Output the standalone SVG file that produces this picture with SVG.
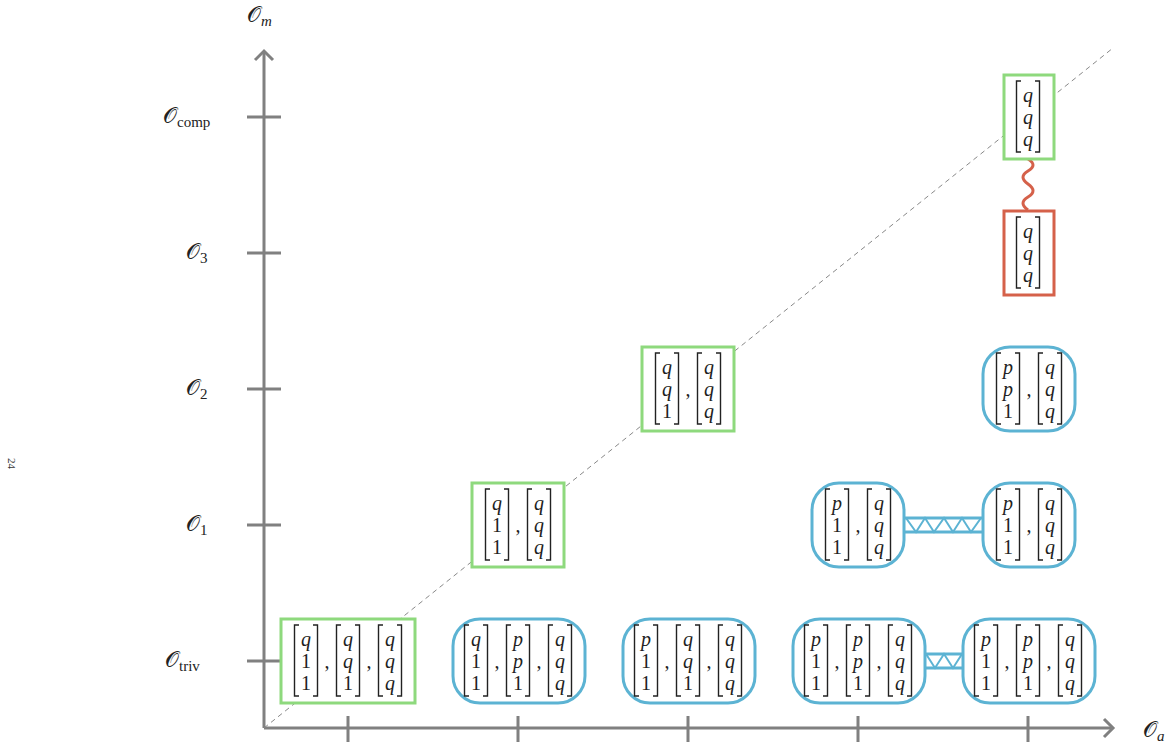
<svg xmlns="http://www.w3.org/2000/svg" width="1174" height="747" viewBox="0 0 1174 747">
<style>
.ax{stroke:#808080;stroke-width:3;fill:none;stroke-linecap:butt}
.lbl{font-family:"Liberation Serif","DejaVu Serif","DejaVu Sans",serif;font-size:22px;fill:#222}
.sub{font-size:15px}
.e{font-family:"Liberation Serif","DejaVu Serif",serif;font-size:20px;fill:#222;text-anchor:middle}
.v{font-style:italic}
.br{stroke:#222;stroke-width:1.4;fill:none}
.g{fill:#fff;stroke:#8ed97d;stroke-width:3}
.b{fill:#fff;stroke:#5cb3d3;stroke-width:3}
.r{fill:#fff;stroke:#d5614a;stroke-width:3}
.bc{stroke:#5cb3d3;stroke-width:3;fill:none}
.bz{stroke:#5cb3d3;stroke-width:2;fill:none}
</style>
<defs>
<g id="brk">
<path class="br" d="M-7,-36 h-4.5 v71 h4.5 M7,-36 h4.5 v71 h-4.5"/>
</g>
</defs>
<rect width="1174" height="747" fill="#fff"/>
<text x="8" y="458" transform="rotate(90 8 458)" font-family="Liberation Serif,serif" font-size="11" fill="#333">24</text>

<g id="axes">
<line x1="264" y1="52" x2="264" y2="728" class="ax"/>
<line x1="264" y1="728" x2="1111" y2="728" class="ax"/>
<path class="ax" d="M255,60 L264,51 L273,60"/>
<path class="ax" d="M1104,719 L1113,728 L1104,737"/>
<path class="ax" d="M247,661 h34 M247,525 h34 M247,389 h34 M247,253 h34 M247,117 h34"/>
<path class="ax" d="M348,716 v26 M518,716 v26 M688,716 v26 M858,716 v26 M1028,716 v26"/>
<line x1="264" y1="728" x2="1113" y2="48" stroke="#888" stroke-width="1" stroke-dasharray="5,4"/>
<text class="lbl" x="247" y="22">𝒪<tspan class="sub v" dy="4">m</tspan></text>
<text class="lbl" x="1143" y="737">𝒪<tspan class="sub v" dy="4">a</tspan></text>
<text class="lbl" x="163" y="123">𝒪<tspan class="sub" dy="4">comp</tspan></text>
<text class="lbl" x="186" y="259">𝒪<tspan class="sub" dy="4">3</tspan></text>
<text class="lbl" x="186" y="395">𝒪<tspan class="sub" dy="4">2</tspan></text>
<text class="lbl" x="186" y="531">𝒪<tspan class="sub" dy="4">1</tspan></text>
<text class="lbl" x="165" y="667">𝒪<tspan class="sub" dy="4">triv</tspan></text>
</g>

<g id="connectors">
<path class="bc" d="M904,518 H983 M904,532 H983"/>
<path class="bz" d="M906,518 L916,532 L925,518 L934,532 L944,518 L953,532 L962,518 L971,532 L981,518"/>
<path class="bc" d="M925,654 H963 M925,668 H963"/>
<path class="bz" d="M926,654 L935,668 L944,654 L953,668 L962,654"/>
<path d="M1028,159 Q1038,165 1028,171 T1028,184 T1028,197 T1028,210" stroke="#d5614a" stroke-width="3" fill="none"/>
</g>

<!-- triv row -->
<g id="n_triv_1">
<rect class="g" x="281" y="619" width="134" height="84"/>
<use href="#brk" x="306" y="661"/><text class="e v" x="306" y="646">q</text><text class="e" x="306" y="668">1</text><text class="e" x="306" y="690">1</text>
<text class="e" x="327" y="668">,</text>
<use href="#brk" x="348" y="661"/><text class="e v" x="348" y="646">q</text><text class="e v" x="348" y="668">q</text><text class="e" x="348" y="690">1</text>
<text class="e" x="369" y="668">,</text>
<use href="#brk" x="390" y="661"/><text class="e v" x="390" y="646">q</text><text class="e v" x="390" y="668">q</text><text class="e v" x="390" y="690">q</text>
</g>
<g id="n_triv_2">
<rect class="b" x="453" y="619" width="132" height="84" rx="27"/>
<use href="#brk" x="476" y="661"/><text class="e v" x="476" y="646">q</text><text class="e" x="476" y="668">1</text><text class="e" x="476" y="690">1</text>
<text class="e" x="497" y="668">,</text>
<use href="#brk" x="518" y="661"/><text class="e v" x="518" y="646">p</text><text class="e v" x="518" y="668">p</text><text class="e" x="518" y="690">1</text>
<text class="e" x="539" y="668">,</text>
<use href="#brk" x="560" y="661"/><text class="e v" x="560" y="646">q</text><text class="e v" x="560" y="668">q</text><text class="e v" x="560" y="690">q</text>
</g>
<g id="n_triv_3">
<rect class="b" x="623" y="619" width="132" height="84" rx="27"/>
<use href="#brk" x="646" y="661"/><text class="e v" x="646" y="646">p</text><text class="e" x="646" y="668">1</text><text class="e" x="646" y="690">1</text>
<text class="e" x="667" y="668">,</text>
<use href="#brk" x="688" y="661"/><text class="e v" x="688" y="646">q</text><text class="e v" x="688" y="668">q</text><text class="e" x="688" y="690">1</text>
<text class="e" x="709" y="668">,</text>
<use href="#brk" x="730" y="661"/><text class="e v" x="730" y="646">q</text><text class="e v" x="730" y="668">q</text><text class="e v" x="730" y="690">q</text>
</g>
<g id="n_triv_4">
<rect class="b" x="793" y="619" width="132" height="84" rx="27"/>
<use href="#brk" x="816" y="661"/><text class="e v" x="816" y="646">p</text><text class="e" x="816" y="668">1</text><text class="e" x="816" y="690">1</text>
<text class="e" x="837" y="668">,</text>
<use href="#brk" x="858" y="661"/><text class="e v" x="858" y="646">p</text><text class="e v" x="858" y="668">p</text><text class="e" x="858" y="690">1</text>
<text class="e" x="879" y="668">,</text>
<use href="#brk" x="900" y="661"/><text class="e v" x="900" y="646">q</text><text class="e v" x="900" y="668">q</text><text class="e v" x="900" y="690">q</text>
</g>
<g id="n_triv_5">
<rect class="b" x="963" y="619" width="132" height="84" rx="27"/>
<use href="#brk" x="986" y="661"/><text class="e v" x="986" y="646">p</text><text class="e" x="986" y="668">1</text><text class="e" x="986" y="690">1</text>
<text class="e" x="1007" y="668">,</text>
<use href="#brk" x="1028" y="661"/><text class="e v" x="1028" y="646">p</text><text class="e v" x="1028" y="668">p</text><text class="e" x="1028" y="690">1</text>
<text class="e" x="1049" y="668">,</text>
<use href="#brk" x="1070" y="661"/><text class="e v" x="1070" y="646">q</text><text class="e v" x="1070" y="668">q</text><text class="e v" x="1070" y="690">q</text>
</g>

<!-- O1 row -->
<g id="n_o1_1">
<rect class="g" x="472" y="483" width="92" height="84"/>
<use href="#brk" x="497" y="525"/><text class="e v" x="497" y="510">q</text><text class="e" x="497" y="532">1</text><text class="e" x="497" y="554">1</text>
<text class="e" x="518" y="532">,</text>
<use href="#brk" x="539" y="525"/><text class="e v" x="539" y="510">q</text><text class="e v" x="539" y="532">q</text><text class="e v" x="539" y="554">q</text>
</g>
<g id="n_o1_2">
<rect class="b" x="812" y="483" width="92" height="84" rx="27"/>
<use href="#brk" x="837" y="525"/><text class="e v" x="837" y="510">p</text><text class="e" x="837" y="532">1</text><text class="e" x="837" y="554">1</text>
<text class="e" x="858" y="532">,</text>
<use href="#brk" x="879" y="525"/><text class="e v" x="879" y="510">q</text><text class="e v" x="879" y="532">q</text><text class="e v" x="879" y="554">q</text>
</g>
<g id="n_o1_3">
<rect class="b" x="983" y="483" width="92" height="84" rx="27"/>
<use href="#brk" x="1008" y="525"/><text class="e v" x="1008" y="510">p</text><text class="e" x="1008" y="532">1</text><text class="e" x="1008" y="554">1</text>
<text class="e" x="1029" y="532">,</text>
<use href="#brk" x="1050" y="525"/><text class="e v" x="1050" y="510">q</text><text class="e v" x="1050" y="532">q</text><text class="e v" x="1050" y="554">q</text>
</g>

<!-- O2 row -->
<g id="n_o2_1">
<rect class="g" x="642" y="347" width="92" height="84"/>
<use href="#brk" x="667" y="389"/><text class="e v" x="667" y="374">q</text><text class="e v" x="667" y="396">q</text><text class="e" x="667" y="418">1</text>
<text class="e" x="688" y="396">,</text>
<use href="#brk" x="709" y="389"/><text class="e v" x="709" y="374">q</text><text class="e v" x="709" y="396">q</text><text class="e v" x="709" y="418">q</text>
</g>
<g id="n_o2_2">
<rect class="b" x="983" y="347" width="92" height="84" rx="27"/>
<use href="#brk" x="1008" y="389"/><text class="e v" x="1008" y="374">p</text><text class="e v" x="1008" y="396">p</text><text class="e" x="1008" y="418">1</text>
<text class="e" x="1029" y="396">,</text>
<use href="#brk" x="1050" y="389"/><text class="e v" x="1050" y="374">q</text><text class="e v" x="1050" y="396">q</text><text class="e v" x="1050" y="418">q</text>
</g>

<!-- O3 -->
<g id="n_o3">
<rect class="r" x="1004" y="211" width="50" height="84"/>
<use href="#brk" x="1028" y="253"/><text class="e v" x="1028" y="238">q</text><text class="e v" x="1028" y="260">q</text><text class="e v" x="1028" y="282">q</text>
</g>

<!-- Ocomp -->
<g id="n_comp">
<rect class="g" x="1004" y="75" width="50" height="84"/>
<use href="#brk" x="1028" y="117"/><text class="e v" x="1028" y="102">q</text><text class="e v" x="1028" y="124">q</text><text class="e v" x="1028" y="146">q</text>
</g>
</svg>
